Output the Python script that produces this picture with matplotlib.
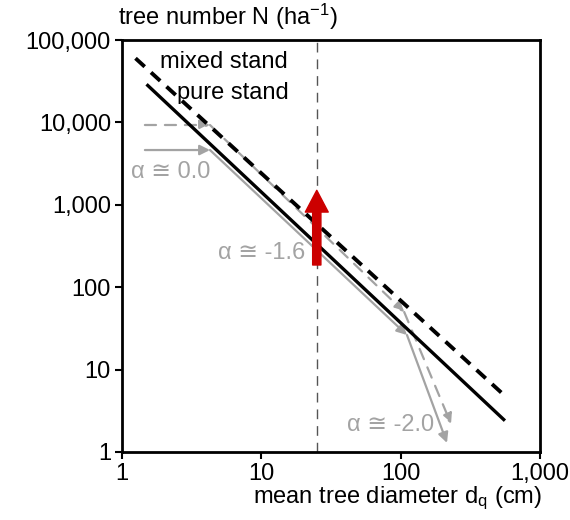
import matplotlib
matplotlib.use("Agg")
import matplotlib.pyplot as plt
from matplotlib.ticker import FixedLocator, NullLocator

plt.rcParams['font.family'] = ['Liberation Sans', 'DejaVu Sans']
plt.rcParams['mathtext.fontset'] = 'custom'
plt.rcParams['mathtext.rm'] = 'Liberation Sans'
plt.rcParams['mathtext.it'] = 'Liberation Sans'

# ---- data ----
x_ticks = [1, 10, 100, 1000]
x_tick_labels = ["1", "10", "100", "1,000"]
y_ticks = [1, 10, 100, 1000, 10000, 100000]
y_tick_labels = ["1", "10", "100", "1,000", "10,000", "100,000"]

pure_d = [1.5, 560]
pure_N = [29000, 2.4]
mixed_d = [1.25, 560]
mixed_N = [60000, 4.8]

# gray solid trajectory (horizontal, -1.6 slope, steep)
gsolid_d = [1.46, 4.28, 111, 215]
gsolid_N = [4620, 4620, 26.3, 1.29]
# gray dashed trajectory
gdash_d = [1.46, 4.28, 106, 230]
gdash_N = [9300, 9300, 50, 2.19]

ref_d = 25
red_from_N = 186
red_to_N = 1500

alpha_labels = ["α ≅ 0.0", "α ≅ -1.6", "α ≅ -2.0"]
alpha_pos_d = [2.25, 10.1, 84]
alpha_pos_N = [2500, 260, 2.13]

fig = plt.figure(figsize=(5.7, 5.2), dpi=100)
ax = fig.add_axes([122/570, 1-452/520, (540-122)/570, (452-40)/520])
ax.set_xscale('log')
ax.set_yscale('log')
ax.set_xlim(1, 1000)
ax.set_ylim(1, 100000)

gray = '#a3a3a3'
fs = 17

# vertical reference line
ax.axvline(ref_d, color='#555555', lw=1.0, ls=(0, (7, 5)), zorder=1)

# gray trajectories
def traj(ds, Ns, ls):
    for i in range(len(ds) - 1):
        ax.annotate('', xy=(ds[i+1], Ns[i+1]), xytext=(ds[i], Ns[i]),
                    arrowprops=dict(arrowstyle='-|>', color=gray, lw=1.6,
                                    ls=ls, shrinkA=0, shrinkB=0,
                                    mutation_scale=15),
                    zorder=2)

traj(gsolid_d, gsolid_N, '-')
traj(gdash_d, gdash_N, (0, (5, 4)))

# black lines
ax.plot(pure_d, pure_N, color='black', lw=2.4, solid_capstyle='butt', zorder=3)
ax.plot(mixed_d, mixed_N, color='black', lw=2.8, ls=(0, (3.2, 2.2)), zorder=3)

# red arrow
ax.annotate('', xy=(ref_d, red_to_N), xytext=(ref_d, red_from_N),
            arrowprops=dict(arrowstyle='simple,head_length=0.95,head_width=1.0,tail_width=0.36',
                            color='#cc0000', shrinkA=0, shrinkB=0, mutation_scale=16.5),
            zorder=4)

# labels
ax.text(1.87, 54000, "mixed stand", fontsize=fs, va='center', ha='left', zorder=5)
ax.text(2.48, 22700, "pure stand", fontsize=fs, va='center', ha='left', zorder=5)
for lab, dx, ny in zip(alpha_labels, alpha_pos_d, alpha_pos_N):
    ax.text(dx, ny, lab, fontsize=fs, color=gray, va='center', ha='center', zorder=5)

# axes styling
ax.xaxis.set_major_locator(FixedLocator(x_ticks))
ax.yaxis.set_major_locator(FixedLocator(y_ticks))
ax.xaxis.set_minor_locator(NullLocator())
ax.yaxis.set_minor_locator(NullLocator())
ax.set_xticklabels(x_tick_labels)
ax.set_yticklabels(y_tick_labels)
ax.tick_params(axis='both', which='major', direction='out', length=5, width=1.5,
               labelsize=fs, pad=3)
for s in ax.spines.values():
    s.set_linewidth(2.0)

fig.text(118/570, 1-17/520, r"tree number N (ha$^{-1}$)", fontsize=fs, ha='left', va='center')
fig.text(542/570, 1-498/520, r"mean tree diameter d$_\mathrm{q}$ (cm)", fontsize=fs,
         ha='right', va='center')

fig.savefig("out.png", dpi=100)
